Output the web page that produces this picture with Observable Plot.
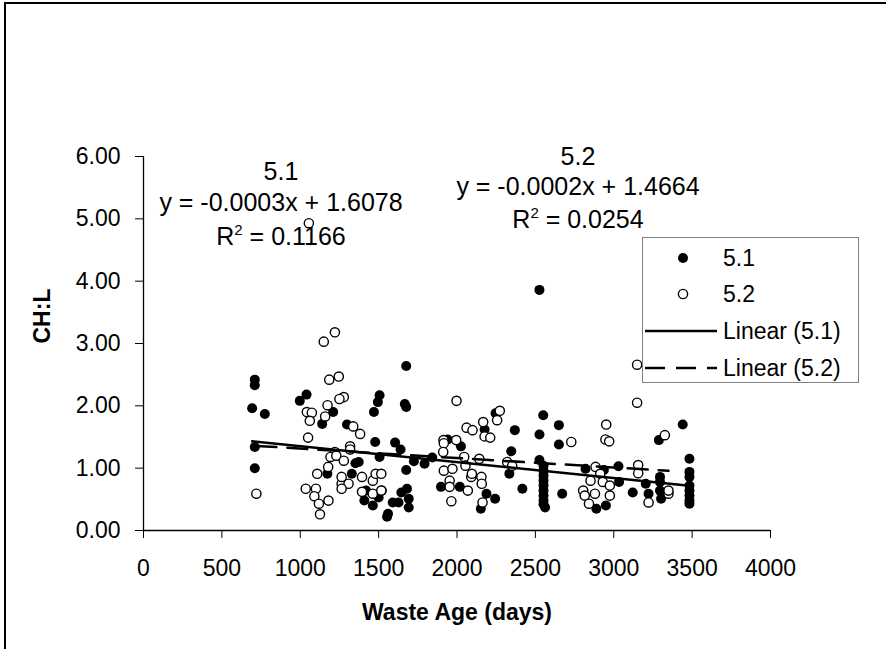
<!DOCTYPE html>
<html>
<head>
<meta charset="utf-8">
<script src="https://cdn.jsdelivr.net/npm/d3@7"></script>
<script src="https://cdn.jsdelivr.net/npm/@observablehq/plot@0.6"></script>
<style>
  html, body { margin: 0; padding: 0; background: #fff; overflow: hidden; width: 886px; height: 649px; }
  body { font-family: "Liberation Sans", Arial, sans-serif; color: #000; position: relative; }
  #chart { position: absolute; left: 0; top: 0; }
  #frame { position: absolute; left: 4px; top: 2px; width: 1000px; height: 1000px;
           border-left: 2px solid #000; border-top: 2px solid #000; pointer-events: none; }
  .ann { position: absolute; transform: translate(-50%, -50%); white-space: nowrap; font-size: 25px; line-height: 1; }
  .ann sup { font-size: 15px; vertical-align: 10px; line-height: 0; }
  #legend { position: absolute; left: 642px; top: 237px; width: 215px; height: 144px;
            border: 1px solid #808080; background: #fff; }
  .lrow { position: absolute; left: 0; height: 30px; width: 215px; }
  .lrow svg { position: absolute; left: 0; top: 0; }
  .lrow span { position: absolute; left: 80px; top: 50%; transform: translateY(-50%); font-size: 23px; white-space: nowrap; }
</style>
</head>
<body>
<div id="chart"></div>
<div id="frame"></div>
<script>
// ---- data ----
const xTicks = [0, 500, 1000, 1500, 2000, 2500, 3000, 3500, 4000];
const yTicks = [0, 1, 2, 3, 4, 5, 6];
const xTitle = "Waste Age (days)";
const yTitle = "CH:L";
const seriesNames = ["5.1", "5.2"];
const legendLabels = ["5.1", "5.2", "Linear (5.1)", "Linear (5.2)"];

// series 5.1 (filled markers)
const s51Days = [710,710,693,774,710,710,1040,997,1210,1140,1298,1352,1173,1329,1373,
  1506,1495,1470,1676,1667,1676,1478,1605,1640,1506,1725,1793,1842,1676,
  1409,1420,1463,1500,1554,1560,1520,1590,1645,1627,1681,1692,1692,
  1898,2018,2025,1941,2176,2246,2346,2369,2152,2188,2243,2334,2417,
  2526,2550,2650,2526,2650,2526,2671,
  2552,2552,2552,2552,2552,2552,2552,2552,2562,2552,
  2820,2937,3030,2889,2950,3034,3121,3204,3222,3288,3295,3295,3302,3295,3440,
  3483,3483,3483,3483,3483,3483,3483,3483];
const s51Ratio = [2.42,2.33,1.96,1.87,1.34,1.00,2.18,2.08,1.90,1.71,1.70,1.08,0.91,0.91,1.10,
  2.17,2.06,1.90,2.64,2.03,1.98,1.42,1.41,1.30,1.18,1.11,1.07,1.17,0.97,
  0.48,0.64,0.40,0.53,0.22,0.27,0.64,0.45,0.61,0.45,0.67,0.51,0.37,
  0.70,0.70,1.35,1.46,1.62,1.88,1.27,1.61,0.35,0.59,0.51,0.91,0.67,
  3.86,1.85,1.69,1.54,1.38,1.13,0.59,
  1.04,0.96,0.88,0.80,0.72,0.64,0.56,0.48,0.37,0.42,
  0.99,0.97,1.03,0.35,0.40,0.78,0.61,0.75,0.59,1.45,0.86,0.78,0.51,0.64,1.70,
  1.15,0.94,0.86,0.72,0.64,0.56,0.48,0.43];

// series 5.2 (open markers)
const s52Days = [720,1055,1221,1150,1246,1185,1278,1250,1174,1042,1074,1061,1159,1338,1382,1050,
  1318,1318,1221,1193,1230,1278,1178,1108,1035,1100,1090,1119,1180,1126,1264,1308,1264,1264,
  1394,1394,1463,1481,1517,1463,1517,
  1997,2273,2256,2167,2061,2099,2176,2212,1914,1916,1995,1912,2046,2142,2320,
  1916,1971,1953,1953,1964,2054,2069,2091,2095,2156,2158,2163,2352,
  2729,2952,2947,2971,3326,3149,3149,2884,3156,3156,
  2805,2815,2842,2852,2880,2914,2930,2975,2975,3222,3349,3349];
const s52Ratio = [0.59,4.93,3.18,3.03,2.47,2.42,2.14,2.11,2.01,1.90,1.89,1.76,1.83,1.67,1.55,1.49,
  1.35,1.30,1.26,1.18,1.20,1.12,1.02,0.91,0.67,0.67,0.55,0.43,0.48,0.26,0.75,0.75,0.86,0.67,
  0.86,0.62,0.80,0.91,0.91,0.59,0.64,
  2.08,1.92,1.77,1.74,1.65,1.61,1.51,1.49,1.45,1.40,1.45,1.26,1.18,1.15,1.10,
  0.96,0.99,0.80,0.70,0.47,1.04,0.64,0.86,0.91,0.86,0.75,0.45,1.04,
  1.42,1.70,1.46,1.43,1.53,2.66,2.05,1.02,1.05,0.92,
  0.64,0.56,0.43,0.80,0.59,0.91,0.78,0.72,0.56,0.45,0.59,0.64];

// trend line coefficients (y = slope*x + intercept)
const trendSlope = [-0.000255, -0.000152];
const trendIntercept = [1.6078, 1.4664];
const eqTitles = ["5.1", "5.2"];
const eqTexts = ["y = -0.0003x + 1.6078", "y = -0.0002x + 1.4664"];
const r2Texts = ["0.1166", "0.0254"];

// ---- build tables ----
const pts51 = s51Days.map((d, i) => ({x: d, y: s51Ratio[i]}));
const pts52 = s52Days.map((d, i) => ({x: d, y: s52Ratio[i]}));
function trend(pts, k) {
  const ext = d3.extent(pts, p => p.x);
  return ext.map(x => ({x, y: trendSlope[k] * x + trendIntercept[k]}));
}
const tr51 = trend(pts51, 0);
const tr52 = trend(pts52, 1);

const FS = 23;
const chart = Plot.plot({
  width: 886, height: 649,
  marginLeft: 143, marginRight: 116, marginTop: 156, marginBottom: 119,
  x: {domain: [0, 4000]},
  y: {domain: [0, 6]},
  style: {fontFamily: "'Liberation Sans', Arial, sans-serif", fontSize: FS + "px", color: "#000", background: "transparent"},
  marks: [
    Plot.axisX({ticks: xTicks, tickSize: 8, tickPadding: 21, label: null, tickFormat: d => String(d), fontSize: FS, stroke: "#000"}),
    Plot.axisY({ticks: yTicks, tickSize: 8, tickPadding: 15, label: null, tickFormat: d => d.toFixed(2), fontSize: FS, stroke: "#000"}),
    Plot.ruleY([0], {stroke: "#000", strokeWidth: 1.3}),
    Plot.ruleX([0], {stroke: "#000", strokeWidth: 1.3}),
    Plot.dot(pts51, {x: "x", y: "y", r: 5, fill: "#000", stroke: "none"}),
    Plot.dot(pts52, {x: "x", y: "y", r: 4.6, fill: "#fff", stroke: "#000", strokeWidth: 1.4}),
    Plot.line(tr51, {x: "x", y: "y", stroke: "#000", strokeWidth: 2.5}),
    Plot.line(tr52, {x: "x", y: "y", stroke: "#000", strokeWidth: 2.5, strokeDasharray: "20,11"}),
    Plot.text([xTitle], {frameAnchor: "bottom", dy: 82, fontWeight: "bold", fontSize: FS, lineAnchor: "middle"}),
    Plot.text([yTitle], {frameAnchor: "left", dx: -101, rotate: -90, fontWeight: "bold", fontSize: FS, lineAnchor: "middle"})
  ]
});
document.getElementById("chart").appendChild(chart);

// ---- annotations ----
const annPos = [{cx: 281, y: [171, 202, 236]}, {cx: 578, y: [156, 186, 219]}];
annPos.forEach((p, k) => {
  const lines = [eqTitles[k], eqTexts[k], "R<sup>2</sup> = " + r2Texts[k]];
  lines.forEach((t, j) => {
    const d = document.createElement("div");
    d.className = "ann";
    d.style.left = p.cx + "px";
    d.style.top = p.y[j] + "px";
    d.innerHTML = t;
    document.body.appendChild(d);
  });
});

// ---- legend ----
const legend = document.createElement("div");
legend.id = "legend";
const rowCenters = [20, 56, 93, 130];
legendLabels.forEach((lab, i) => {
  const row = document.createElement("div");
  row.className = "lrow";
  row.style.top = (rowCenters[i] - 15) + "px";
  let sym;
  if (i === 0) sym = '<circle cx="40" cy="15" r="5" fill="#000"/>';
  else if (i === 1) sym = '<circle cx="40" cy="15" r="4.6" fill="#fff" stroke="#000" stroke-width="1.4"/>';
  else if (i === 2) sym = '<line x1="2" x2="74" y1="15" y2="15" stroke="#000" stroke-width="2.5"/>';
  else sym = '<line x1="2" x2="74" y1="15" y2="15" stroke="#000" stroke-width="2.5" stroke-dasharray="20,11"/>';
  row.innerHTML = '<svg width="80" height="30">' + sym + '</svg><span>' + lab + '</span>';
  legend.appendChild(row);
});
document.body.appendChild(legend);
</script>
</body>
</html>
